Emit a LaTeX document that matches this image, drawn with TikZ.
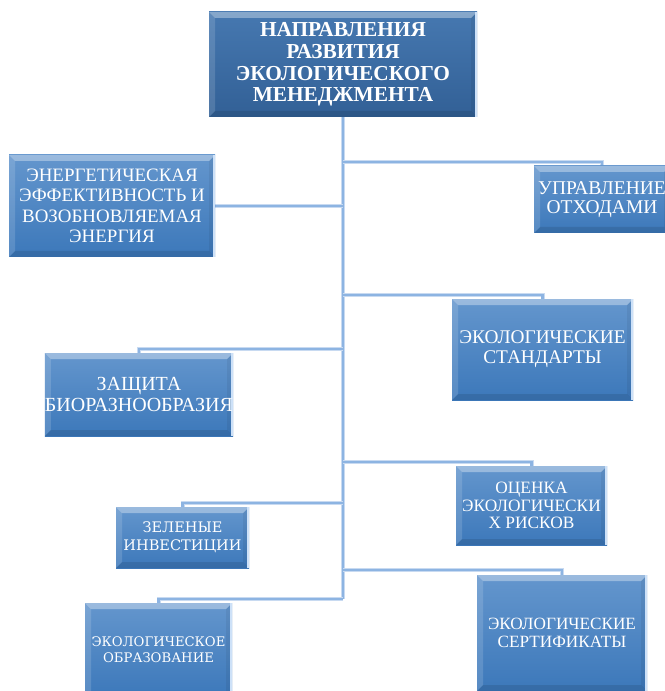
\documentclass[tikz,border=0pt]{standalone}
\usepackage{fontspec}
\setmainfont{Liberation Serif}
\newfontfamily\slabfont{DejaVu Serif}
\usetikzlibrary{backgrounds}
\definecolor{linec}{RGB}{141,180,226}
\definecolor{lineedge}{RGB}{200,218,241}
\definecolor{mtop}{RGB}{70,120,176}
\definecolor{mbot}{RGB}{50,96,150}
\definecolor{btop}{RGB}{100,150,205}
\definecolor{bbot}{RGB}{60,120,186}
\definecolor{rimc}{RGB}{205,225,248}
\begin{document}
\begin{tikzpicture}[x=0.75pt,y=-0.75pt,
  bevel/.style={path picture={
    \fill[white,opacity=.35] (path picture bounding box.north west) -- (path picture bounding box.north east) -- ([xshift=-4.5pt,yshift=-4.5pt]path picture bounding box.north east) -- ([xshift=4.5pt,yshift=-4.5pt]path picture bounding box.north west) -- cycle;
    \fill[white,opacity=.14] (path picture bounding box.north west) -- ([xshift=4.5pt,yshift=-4.5pt]path picture bounding box.north west) -- ([xshift=4.5pt,yshift=4.5pt]path picture bounding box.south west) -- (path picture bounding box.south west) -- cycle;
    \fill[black,opacity=.10] (path picture bounding box.south west) -- ([xshift=4.5pt,yshift=4.5pt]path picture bounding box.south west) -- ([xshift=-4.5pt,yshift=4.5pt]path picture bounding box.south east) -- (path picture bounding box.south east) -- cycle;
    \fill[black,opacity=.06] (path picture bounding box.north east) -- ([xshift=-4.5pt,yshift=-4.5pt]path picture bounding box.north east) -- ([xshift=-4.5pt,yshift=4.5pt]path picture bounding box.south east) -- (path picture bounding box.south east) -- cycle;
    \draw[rimc,line width=1.2pt] ([xshift=-0.6pt]path picture bounding box.north east) -- ([xshift=-0.6pt]path picture bounding box.south east);
  }},
  sz/.style n args={2}{minimum width=#1*0.75pt, minimum height=#2*0.75pt},
  boxbase/.style={rectangle, inner sep=0pt, align=center, text=white, top color=btop, bottom color=bbot, bevel},
  mainbox/.style={boxbase, top color=mtop, bottom color=mbot, font=\bfseries\fontsize{16}{16.3}\selectfont},
  topic/.style n args={2}{boxbase, font=\fontsize{#1}{#2}\selectfont},
  slabtopic/.style n args={2}{boxbase, font=\slabfont\fontsize{#1}{#2}\selectfont},
  conn/.style={draw=linec, line width=1.8pt, preaction={draw=lineedge, line width=3pt}}
]
\useasboundingbox (0,0) rectangle (664,691);
\node[mainbox, sz={268}{105}] (main) at (343,64.5) {НАПРАВЛЕНИЯ\\РАЗВИТИЯ\\ЭКОЛОГИЧЕСКОГО\\МЕНЕДЖМЕНТА};
\node[topic={14.2}{15.4}, sz={206}{102}] (energy) at (112,206) {ЭНЕРГЕТИЧЕСКАЯ\\ЭФФЕКТИВНОСТЬ И\\ВОЗОБНОВЛЯЕМАЯ\\ЭНЕРГИЯ};
\node[topic={14.6}{14.5}, sz={136}{67}] (waste) at (602,199.5) {УПРАВЛЕНИЕ\\ОТХОДАМИ};
\node[topic={14.5}{15}, sz={181}{101}] (standards) at (542.5,349.5) {ЭКОЛОГИЧЕСКИЕ\\СТАНДАРТЫ};
\node[topic={15}{16.3}, sz={188}{83}] (bio) at (139,394.5) {ЗАЩИТА\\БИОРАЗНООБРАЗИЯ};
\node[slabtopic={10.9}{13.3}, sz={133}{61}] (green) at (182.5,537.5) {ЗЕЛЕНЫЕ\\ИНВЕСТИЦИИ};
\node[topic={13}{13.3}, sz={151}{79}] (risk) at (531.5,505.5) {ОЦЕНКА\\ЭКОЛОГИЧЕСКИ\\Х РИСКОВ};
\node[slabtopic={9.9}{12}, sz={147}{94}] (edu) at (158.5,650) {ЭКОЛОГИЧЕСКОЕ\\ОБРАЗОВАНИЕ};
\node[topic={12.9}{13}, sz={170}{116}] (cert) at (562,633) {ЭКОЛОГИЧЕСКИЕ\\СЕРТИФИКАТЫ};
\coordinate (jwaste) at (343,162);
\coordinate (jstd) at (343,295);
\coordinate (jbio) at (343,349);
\coordinate (jrisk) at (343,462);
\coordinate (jgreen) at (343,503);
\coordinate (jcert) at (343,570);
\coordinate (tend) at (343,599);
\begin{scope}[on background layer]
\draw[conn] (main.south) -- (tend);
\draw[conn] (energy.east) -- (energy.east -| main.south);
\draw[conn] (jwaste) -| (waste.north);
\draw[conn] (jstd) -| (standards.north);
\draw[conn] (jbio) -| (bio.north);
\draw[conn] (jrisk) -| (risk.north);
\draw[conn] (jgreen) -| (green.north);
\draw[conn] (jcert) -| (cert.north);
\draw[conn] (tend) -| (edu.north);
\end{scope}
\end{tikzpicture}
\end{document}
